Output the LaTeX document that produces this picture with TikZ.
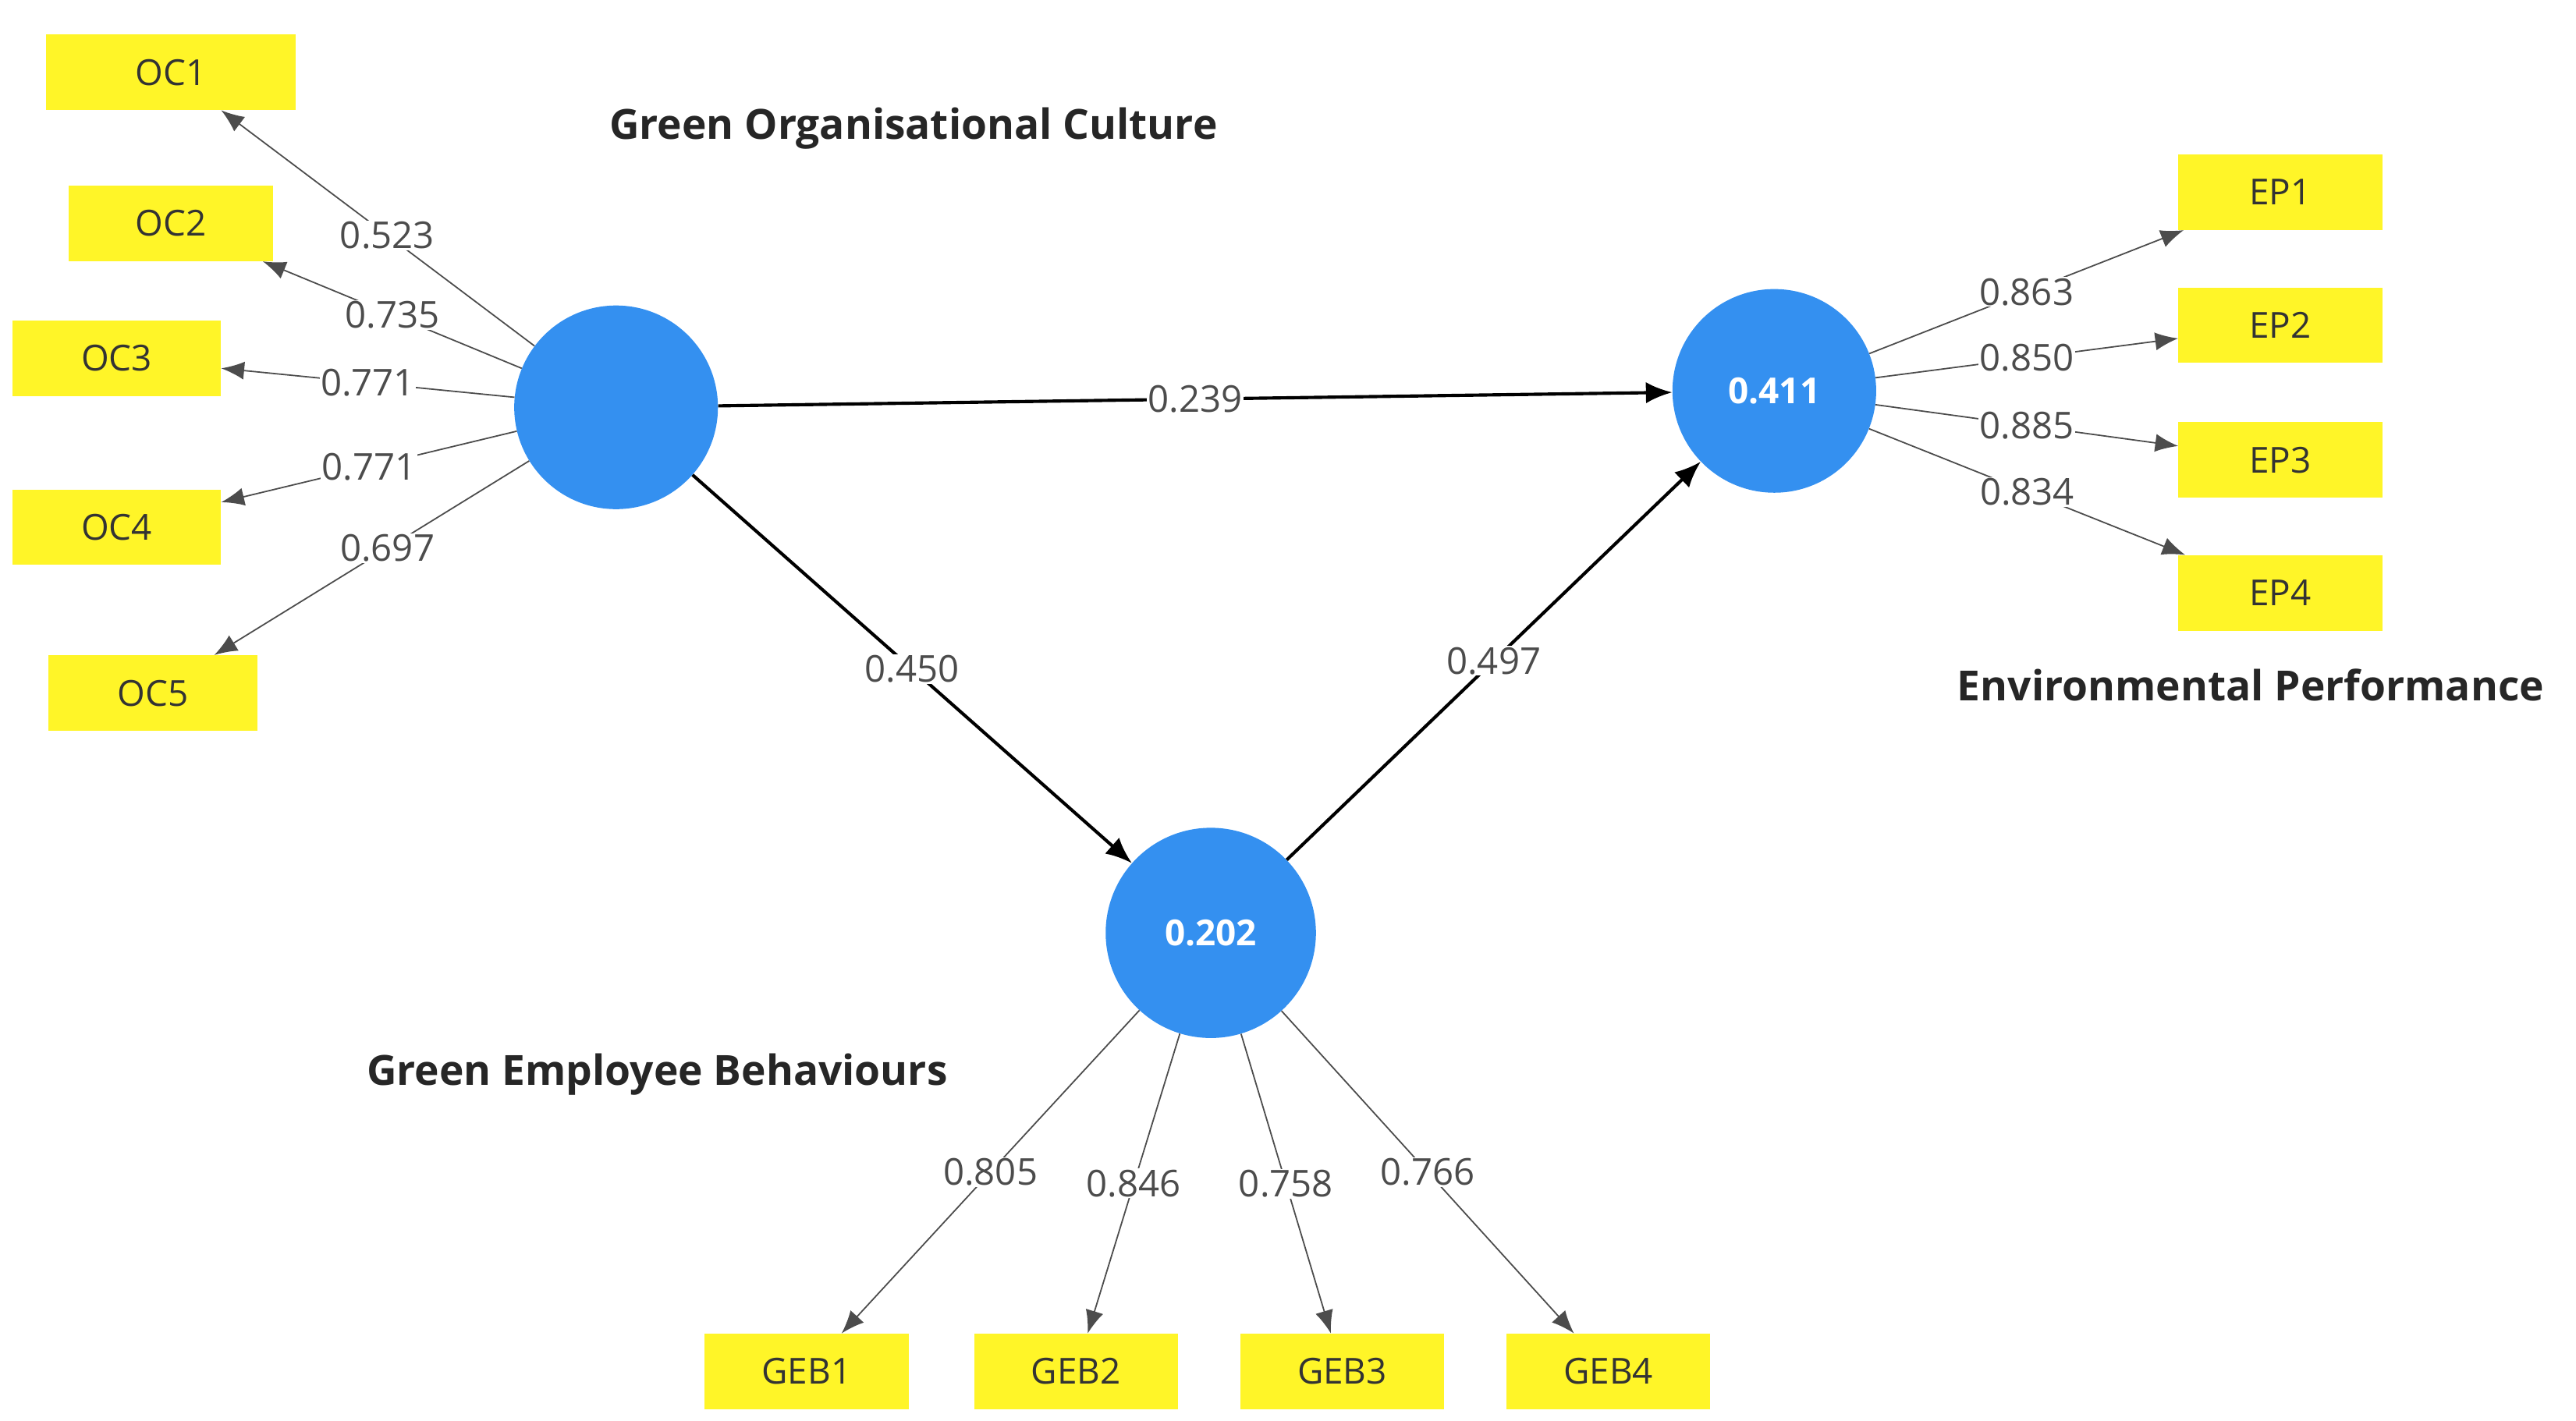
\documentclass[tikz,border=0pt]{standalone}
\usepackage{fontspec}
\setmainfont{Open Sans}
\usetikzlibrary{arrows.meta}
\begin{document}
\begin{tikzpicture}[x=0.05cm,y=-0.05cm,
  ind/.style={fill={rgb,255:red,255;green,245;blue,40},minimum width=6.2cm,minimum height=2.3cm,font=\fontsize{31}{36}\selectfont,text=black!80,inner sep=0pt},
  lat/.style={circle,fill={rgb,255:red,52;green,144;blue,240},minimum size=6.2cm,inner sep=0pt,text=white,font=\bfseries\fontsize{31}{36}\selectfont},
  ld/.style={draw=black!70,line width=1.2pt,-{Latex[length=0.7cm,width=0.55cm]}},
  st/.style={draw=black,line width=2.8pt,-{Latex[length=0.8cm,width=0.65cm]}},
  lbl/.style={fill=white,inner sep=1pt,text=black!70,font=\fontsize{32}{36}\selectfont},
  ttl/.style={text=black!85,font=\bfseries\fontsize{36}{42}\selectfont}]
\useasboundingbox (0,0) rectangle (1568,865);
\node[lat] (goc) at (375,248) {};
\node[lat] (ep) at (1080,238) {0.411};
\node[lat,minimum size=6.4cm] (geb) at (737,568) {0.202};
\node[ind,minimum width=7.6cm] (oc1) at (104,44) {OC1};
\node[ind] (oc2) at (104,136) {OC2};
\node[ind,minimum width=6.35cm] (oc3) at (71,218) {OC3};
\node[ind,minimum width=6.35cm] (oc4) at (71,321) {OC4};
\node[ind,minimum width=6.35cm] (oc5) at (93,422) {OC5};
\node[ind] (ep1) at (1388,117) {EP1};
\node[ind] (ep2) at (1388,198) {EP2};
\node[ind] (ep3) at (1388,280) {EP3};
\node[ind] (ep4) at (1388,361) {EP4};
\node[ind] (g1) at (491,835) {GEB1};
\node[ind] (g2) at (655,835) {GEB2};
\node[ind] (g3) at (817,835) {GEB3};
\node[ind] (g4) at (979,835) {GEB4};
\node[ttl] (t1) at (556,78) {Green Organisational Culture};
\node[ttl] (t2) at (1370,417) {Environmental Performance};
\node[ttl] (t3) at (400,654) {Green Employee Behaviours};
\draw[ld] (goc) -- (oc1) node[lbl,pos=0.47] {0.523};
\draw[ld] (goc) -- (oc2) node[lbl,pos=0.5] {0.735};
\draw[ld] (goc) -- (oc3) node[lbl,pos=0.5] {0.771};
\draw[ld] (goc) -- (oc4) node[lbl,pos=0.5] {0.771};
\draw[ld] (goc) -- (oc5) node[lbl,pos=0.45] {0.697};
\draw[ld] (ep) -- (ep1) node[lbl,pos=0.5] {0.863};
\draw[ld] (ep) -- (ep2) node[lbl,pos=0.5] {0.850};
\draw[ld] (ep) -- (ep3) node[lbl,pos=0.5] {0.885};
\draw[ld] (ep) -- (ep4) node[lbl,pos=0.5] {0.834};
\draw[ld] (geb) -- (g1) node[lbl,pos=0.5] {0.805};
\draw[ld] (geb) -- (g2) node[lbl,pos=0.5] {0.846};
\draw[ld] (geb) -- (g3) node[lbl,pos=0.5] {0.758};
\draw[ld] (geb) -- (g4) node[lbl,pos=0.5] {0.766};
\draw[st] (goc) -- (ep) node[lbl,pos=0.5] {0.239};
\draw[st] (goc) -- (geb) node[lbl,pos=0.5] {0.450};
\draw[st] (geb) -- (ep) node[lbl,pos=0.5] {0.497};
\end{tikzpicture}
\end{document}
